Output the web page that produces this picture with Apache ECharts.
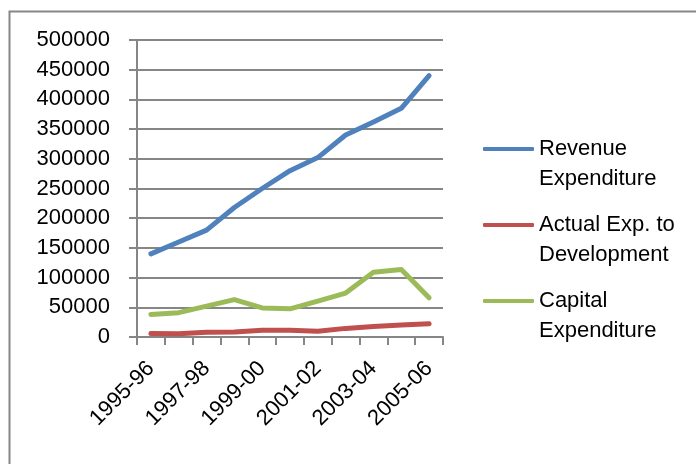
<!DOCTYPE html>
<html>
<head>
<meta charset="utf-8">
<script src="https://cdn.jsdelivr.net/npm/echarts@6/dist/echarts.min.js"></script>
<style>
html, body { margin: 0; padding: 0; background: #fff; }
#main { width: 696px; height: 464px; }
</style>
</head>
<body>
<div id="main"></div>
<script>
var years = ['1995-96', '1996-97', '1997-98', '1998-99', '1999-00', '2000-01',
             '2001-02', '2002-03', '2003-04', '2004-05', '2005-06'];
var revenueExp = [140000, 160000, 180000, 218000, 250000, 280000, 302000, 340000, 362000, 385000, 440000];
var actualDevExp = [6000, 5500, 8000, 8500, 11500, 11500, 9500, 14500, 17500, 20000, 22500];
var capitalExp = [38000, 41000, 52000, 63000, 49000, 47500, 60500, 74000, 109000, 113500, 66000];
var yTicks = [0, 500000, 50000];

var dom = document.getElementById('main');
var myChart = echarts.init(dom);
var font = 'Liberation Sans';
var gray = '#868686';

function lineSeries(name, data, color) {
    return {
        name: name,
        type: 'line',
        data: data,
        symbol: 'none',
        lineStyle: { width: 5, color: color, cap: 'round', join: 'round' },
        itemStyle: { color: color },
        animation: false
    };
}

var option = {
    animation: false,
    textStyle: { fontFamily: font },
    graphic: [{
        type: 'rect',
        shape: { x: 9.5, y: 11.5, width: 720, height: 480 },
        style: { fill: 'none', stroke: gray, lineWidth: 2 },
        silent: true
    }],
    grid: { left: 137, right: 253, top: 40, bottom: 127 },
    legend: {
        orient: 'vertical',
        left: 483,
        top: 104,
        padding: 0,
        itemWidth: 51,
        itemHeight: 4,
        itemGap: -14,
        icon: 'roundRect',
        // blank first line so the key line sits beside the first text line
        formatter: function (name) {
            return '\n' + name;
        },
        textStyle: {
            fontFamily: font,
            fontSize: 22,
            color: '#000',
            lineHeight: 30
        },
        data: ['Revenue\nExpenditure', 'Actual Exp. to\nDevelopment', 'Capital\nExpenditure']
    },
    xAxis: {
        type: 'category',
        data: years,
        boundaryGap: true,
        axisLine: { lineStyle: { color: gray, width: 2 } },
        axisTick: { show: true, interval: 0, length: 8, lineStyle: { color: gray, width: 2 } },
        axisLabel: {
            interval: 1,
            rotate: 45,
            margin: 28,
            fontSize: 22,
            fontFamily: font,
            color: '#000'
        }
    },
    yAxis: {
        type: 'value',
        min: yTicks[0],
        max: yTicks[1],
        interval: yTicks[2],
        axisLine: { show: true, lineStyle: { color: gray, width: 2 } },
        axisTick: { show: true, length: 8, lineStyle: { color: gray, width: 2 } },
        splitLine: { lineStyle: { color: gray, width: 2 } },
        axisLabel: {
            margin: 27,
            fontSize: 22,
            fontFamily: font,
            color: '#000',
            formatter: function (v) { return String(v); }
        }
    },
    series: [
        lineSeries('Revenue\nExpenditure', revenueExp, '#4F81BD'),
        lineSeries('Actual Exp. to\nDevelopment', actualDevExp, '#C0504D'),
        lineSeries('Capital\nExpenditure', capitalExp, '#9BBB59')
    ]
};

if (option && typeof option === "object") {
    myChart.setOption(option, true);
}
</script>
</body>
</html>
